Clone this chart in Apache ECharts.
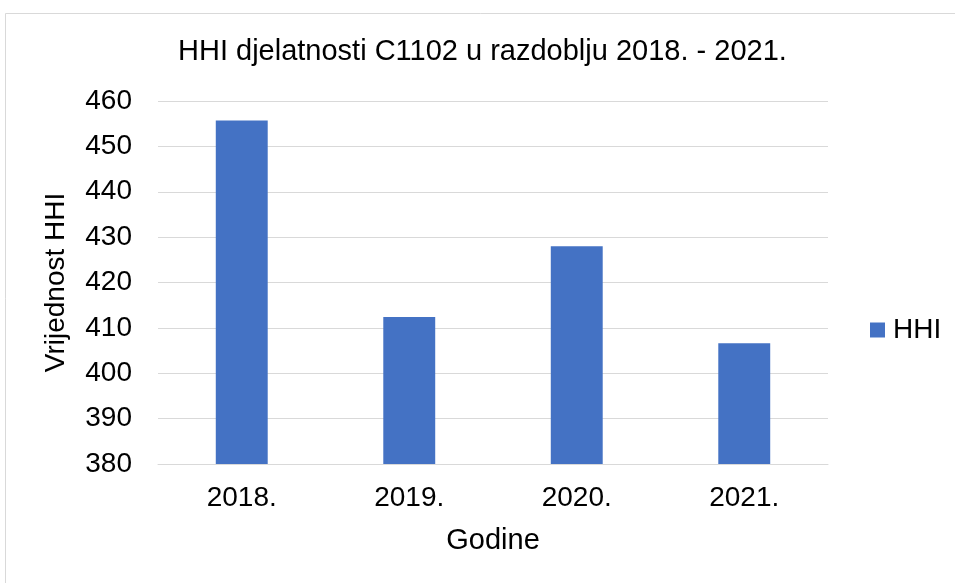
<!DOCTYPE html>
<html>
<head>
<meta charset="utf-8">
<script src="https://cdn.jsdelivr.net/npm/echarts@6/dist/echarts.min.js"></script>
<style>html,body{margin:0;padding:0;background:#fff;}#c{width:955px;height:583px;}</style>
</head>
<body>
<div id="c"></div>
<script>
const categories = ['2018.', '2019.', '2020.', '2021.'];
const hhiValues = [455.7, 412.4, 428.0, 406.6];
const yTicks = [380, 390, 400, 410, 420, 430, 440, 450, 460];

const chart = echarts.init(document.getElementById('c'));
const font = 'Liberation Sans, Arial, sans-serif';
chart.setOption({
  animation: false,
  backgroundColor: '#fff',
  textStyle: { fontFamily: font },
  graphic: [{
    type: 'rect', shape: { x: 5.5, y: 13.5, width: 1000, height: 700 },
    style: { fill: 'none', stroke: '#d9d9d9', lineWidth: 1 }, silent: true
  }],
  title: {
    text: 'HHI djelatnosti C1102 u razdoblju 2018. - 2021.',
    left: 178, top: 37, padding: 0,
    textStyle: { fontFamily: font, fontSize: 29, fontWeight: 'normal', color: '#000' }
  },
  legend: {
    data: ['HHI'], left: 870, top: 316, padding: 0,
    icon: 'rect', itemWidth: 15, itemHeight: 15, itemGap: 4,
    textStyle: { fontFamily: font, fontSize: 28, color: '#000', padding: [0, 0, 0, 3] }
  },
  grid: { left: 158, right: 127, top: 101, bottom: 119, containLabel: false },
  xAxis: {
    type: 'category', data: categories,
    name: 'Godine', nameLocation: 'middle', nameGap: 62,
    nameTextStyle: { fontFamily: font, fontSize: 29, color: '#000' },
    axisLine: { lineStyle: { color: '#d9d9d9', width: 1 } },
    axisTick: { show: false },
    axisLabel: { fontFamily: font, fontSize: 28, color: '#000', margin: 20 }
  },
  yAxis: {
    type: 'value', min: yTicks[0], max: yTicks[yTicks.length - 1], interval: 10,
    name: 'Vrijednost HHI', nameLocation: 'middle', nameGap: 88,
    nameTextStyle: { fontFamily: font, fontSize: 28, color: '#000' },
    axisLine: { show: false }, axisTick: { show: false },
    axisLabel: { fontFamily: font, fontSize: 28, color: '#000', margin: 26 },
    splitLine: { lineStyle: { color: '#d9d9d9', width: 1 } }
  },
  series: [{
    name: 'HHI', type: 'bar', data: hhiValues, barWidth: '31%',
    itemStyle: { color: '#4472c4' }
  }]
});
</script>
</body>
</html>
